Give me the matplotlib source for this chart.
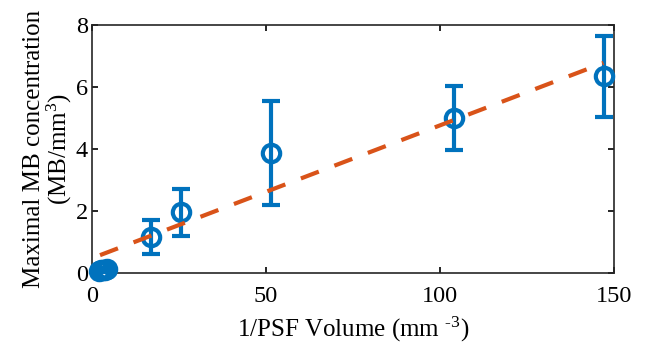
import matplotlib
matplotlib.use("Agg")
import matplotlib.pyplot as plt

plt.rcParams['font.family'] = ['Liberation Serif', 'DejaVu Serif']
plt.rcParams['mathtext.fontset'] = 'custom'
plt.rcParams['mathtext.rm'] = 'Liberation Serif'
plt.rcParams['mathtext.it'] = 'Liberation Serif:italic'
plt.rcParams['mathtext.default'] = 'regular'

# data
x_vals = [1.9, 2.5, 3.2, 3.8, 4.4, 17.0, 25.5, 51.5, 104.0, 147.0]
y_vals = [0.08, 0.09, 0.10, 0.10, 0.12, 1.16, 1.96, 3.87, 5.01, 6.35]
y_err = [0.03, 0.03, 0.04, 0.04, 0.05, 0.55, 0.75, 1.67, 1.03, 1.30]
fit_x = [2.3, 147.0]
fit_y = [0.58, 6.78]

xticks = [0, 50, 100, 150]
yticks = [0, 2, 4, 6, 8]

blue = '#0072BD'
orange = '#D95319'

fig = plt.figure(figsize=(6.49, 3.44), dpi=100)
ax = fig.add_axes([0.1418, 0.206, 0.946 - 0.1418, 0.927 - 0.206])

ax.errorbar(x_vals, y_vals, yerr=y_err, fmt='o', color=blue, ms=12.5,
            mfc='none', mec=blue, mew=3, elinewidth=3, capsize=6.5,
            capthick=3, clip_on=False, zorder=3)
ax.plot(fit_x, fit_y, '--', color=orange, lw=3, dashes=(4.6, 4.0), zorder=4)

ax.set_xlim(0, 150)
ax.set_ylim(0, 8)
ax.set_xticks(xticks)
ax.set_yticks(yticks)
ax.tick_params(direction='in', top=True, right=True, labelsize=17.5,
               length=4, width=1.2)
ax.tick_params(axis='x', pad=9)
ax.tick_params(axis='y', pad=3)
for s in ax.spines.values():
    s.set_linewidth(1.2)
    s.set_color('#262626')

ax.set_xlabel('1/PSF Volume (mm $^{\u20103}$)', fontsize=18, labelpad=6)
ax.set_ylabel('Maximal MB concentration\n(MB/mm$^{3}$)', fontsize=18,
              labelpad=1, linespacing=1.0)

fig.savefig('out.png', dpi=100)
